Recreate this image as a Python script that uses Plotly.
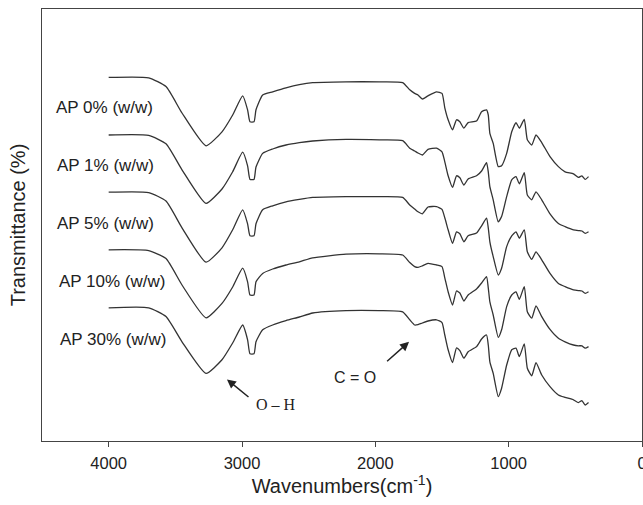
import plotly.graph_objects as go

# Wavenumbers (cm^-1), shared by all spectra
wavenumbers = [4000, 3700, 3570, 3450, 3270, 3150, 3070, 2995, 2958, 2940, 2910, 2895, 2845,
               2770, 2670, 2570, 2470, 2220, 1970, 1795, 1742, 1705, 1680, 1647, 1605, 1541,
               1500, 1479, 1454, 1421, 1391, 1366, 1336, 1304, 1241, 1203, 1166, 1153, 1141,
               1116, 1078, 1053, 1015, 977, 945, 920, 883, 860, 827, 795, 752, 690, 627, 577,
               514, 477, 451, 426, 401]

# Offset transmittance values (arbitrary stacked units)
ap_0 = [90.9, 90.8, 88.6, 82.0, 73.8, 77.3, 81.5, 86.3, 82.8, 79.8, 79.8, 82.8, 86.5,
        87.3, 88.3, 89.1, 89.6, 89.8, 89.8, 89.6, 87.8, 86.9, 86.5, 85.5, 86.3, 87.3,
        86.9, 83.3, 80.3, 77.8, 80.3, 79.8, 78.2, 79.6, 80.0, 82.3, 82.8, 81.5, 76.9,
        74.4, 68.6, 68.8, 71.9, 77.3, 79.6, 78.2, 80.4, 75.3, 74.0, 76.5, 74.6, 71.1, 68.6, 67.3,
        66.8, 65.9, 66.3, 65.4, 66.1]
ap_1 = [76.5, 76.4, 74.3, 67.8, 59.4, 63.0, 67.3, 72.2, 68.8, 65.4, 65.4, 68.5, 71.9,
        73.0, 74.0, 74.6, 75.0, 75.4, 75.3, 75.1, 73.2, 72.5, 72.0, 71.5, 72.9, 73.2,
        72.3, 69.8, 66.3, 63.4, 66.3, 65.8, 64.0, 65.5, 66.3, 67.5, 69.6, 67.3, 63.6,
        60.3, 54.8, 56.1, 61.1, 65.3, 66.1, 64.3, 67.1, 61.5, 60.3, 62.3, 60.3, 56.8, 54.4, 53.6,
        52.8, 52.6, 52.5, 51.9, 52.3]
ap_5 = [62.2, 62.1, 60.0, 53.3, 44.7, 48.3, 52.8, 57.8, 54.3, 51.3, 51.3, 54.3, 57.8,
        58.8, 59.8, 60.4, 60.9, 61.1, 61.1, 60.9, 59.0, 58.0, 57.3, 56.8, 58.5, 58.6,
        57.9, 55.8, 52.8, 49.4, 52.3, 51.8, 49.8, 51.3, 52.0, 53.8, 55.7, 53.3, 49.8,
        46.1, 41.5, 43.2, 48.6, 51.3, 52.3, 50.7, 52.8, 47.3, 45.4, 47.3, 45.3, 41.9, 39.4, 38.6,
        37.8, 37.6, 37.5, 36.9, 37.3]
ap_10 = [47.8, 47.6, 45.6, 39.0, 30.8, 34.4, 38.5, 43.2, 39.8, 36.5, 36.5, 39.8, 41.9,
         43.0, 44.0, 44.8, 45.8, 46.7, 46.8, 46.5, 44.6, 43.6, 43.4, 43.8, 44.4, 44.0,
         43.6, 40.8, 37.3, 34.0, 37.5, 37.0, 35.0, 36.5, 38.0, 39.5, 41.1, 38.3, 34.8,
         31.5, 25.9, 27.8, 33.6, 36.5, 37.3, 35.4, 38.6, 32.3, 30.7, 33.8, 31.1, 27.9, 25.7, 24.8,
         24.0, 23.8, 23.8, 23.2, 23.6]
ap_30 = [33.3, 33.3, 31.1, 24.8, 16.9, 20.3, 24.5, 29.0, 25.3, 21.8, 21.8, 24.8, 27.8,
         29.0, 30.1, 31.0, 32.0, 32.6, 32.6, 32.3, 30.3, 29.0, 29.1, 29.5, 30.0, 30.3,
         29.6, 26.5, 22.8, 19.6, 23.3, 22.6, 20.7, 22.3, 23.6, 25.5, 26.5, 24.0, 19.8,
         16.9, 11.1, 13.2, 19.0, 22.8, 23.2, 21.1, 24.3, 18.2, 16.3, 19.6, 16.5, 13.6, 11.5, 10.9,
         10.3, 9.6, 10.1, 9.0, 9.6]

series_names = ["AP 0% (w/w)", "AP 1% (w/w)", "AP 5% (w/w)", "AP 10% (w/w)", "AP 30% (w/w)"]
series_values = [ap_0, ap_1, ap_5, ap_10, ap_30]
label_x = [4411, 4404, 4404, 4389, 4381]
label_y = [83.3, 69.0, 54.5, 40.0, 25.5]

x_ticks = [4000, 3000, 2000, 1000, 0]

SANS = "Liberation Sans, Arial, sans-serif"
SERIF = "Liberation Serif, Times New Roman, serif"

fig = go.Figure()
for name, vals in zip(series_names, series_values):
    fig.add_trace(go.Scatter(x=wavenumbers, y=vals, mode="lines", name=name,
                             line=dict(color="#333333", width=1.3, shape="spline", smoothing=0.5),
                             showlegend=False, hoverinfo="skip"))

annotations = []
for name, lx, ly in zip(series_names, label_x, label_y):
    annotations.append(dict(x=lx, y=ly, xref="x", yref="y", text=name, showarrow=False,
                            xanchor="left", yanchor="middle",
                            font=dict(family=SANS, size=17, color="#222222")))

# O-H arrow and label
annotations.append(dict(x=3113, y=15.4, ax=2940, ay=10.7, xref="x", yref="y", axref="x", ayref="y",
                        text="", showarrow=True, arrowhead=2, arrowsize=1.2, arrowwidth=1.5,
                        arrowcolor="#222222"))
annotations.append(dict(x=2742, y=9.25, xref="x", yref="y", text="O \u2013 H", showarrow=False,
                        font=dict(family=SERIF, size=16, color="#222222")))
# C=O arrow and label
annotations.append(dict(x=1747, y=24.8, ax=1923, ay=19.6, xref="x", yref="y", axref="x", ayref="y",
                        text="", showarrow=True, arrowhead=2, arrowsize=1.2, arrowwidth=1.5,
                        arrowcolor="#222222"))
annotations.append(dict(x=2153, y=15.8, xref="x", yref="y", text="C = O", showarrow=False,
                        font=dict(family=SANS, size=16, color="#222222")))

fig.update_layout(
    width=643, height=505,
    margin=dict(l=42, r=1, t=9, b=64),
    paper_bgcolor="white", plot_bgcolor="white",
    font=dict(family=SANS, size=16, color="#222222"),
    annotations=annotations,
    xaxis=dict(range=[4500, 0], tickvals=x_ticks, ticktext=[str(t) for t in x_ticks],
               ticks="outside", ticklen=5, tickwidth=1.2, tickcolor="#444444",
               ticklabelstandoff=2,
               showline=True, linecolor="#444444", linewidth=1.3, mirror=True,
               showgrid=False, zeroline=False, automargin=False, ticklabeloverflow="allow",
               tickfont=dict(family=SANS, size=16.5, color="#222222"),
               title=dict(text="Wavenumbers(cm<sup>-1</sup>)", standoff=2,
                          font=dict(family=SANS, size=20, color="#222222"))),
    yaxis=dict(range=[0, 108], showticklabels=False, ticks="",
               showline=True, linecolor="#444444", linewidth=1.3, mirror=True,
               showgrid=False, zeroline=False, automargin=False,
               title=dict(text="Transmittance (%)", standoff=9,
                          font=dict(family=SANS, size=20, color="#222222"))),
)

fig.write_html("out.html", config={"displayModeBar": False},
               post_script="document.body.style.margin='0';document.body.style.overflow='hidden';")
